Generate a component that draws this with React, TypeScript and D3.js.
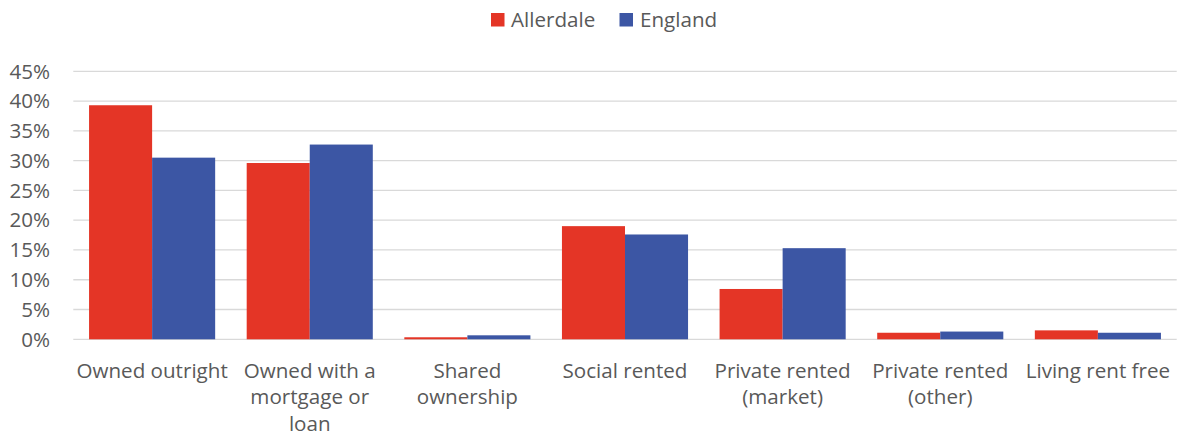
import React, { useEffect, useRef } from "react";
import * as d3 from "d3";

const categories = [
  "Owned outright",
  "Owned with a\nmortgage or\nloan",
  "Shared\nownership",
  "Social rented",
  "Private rented\n(market)",
  "Private rented\n(other)",
  "Living rent free",
];
const seriesNames = ["Allerdale", "England"];
const allerdale = [39.3, 29.6, 0.34, 19.0, 8.45, 1.1, 1.5];
const england = [30.5, 32.7, 0.67, 17.6, 15.3, 1.3, 1.1];
const yTicks = [0, 5, 10, 15, 20, 25, 30, 35, 40, 45];
const colors = ["#E43526", "#3C56A4"];

const W = 1178;
const H = 442;
const FONT = "'Open Sans', sans-serif";
const TEXT = "#595959";
const FS = 20.6;

export default function App() {
  const ref = useRef<SVGSVGElement>(null);
  useEffect(() => {
    document.body.style.margin = "0";
    const svg = d3.select(ref.current);
    svg.selectAll("*").remove();
    const left = 73.3, right = 1176.7, top = 71.3, bottom = 339.3;
    const y = d3.scaleLinear().domain([0, 45]).range([bottom, top]);
    const x0 = d3.scaleBand<string>().domain(categories).range([left, right]).paddingInner(0.2).paddingOuter(0.1);
    const x1 = d3.scaleBand<string>().domain(seriesNames).range([0, x0.bandwidth()]).padding(0);

    svg.append("g").selectAll("line").data(yTicks).join("line")
      .attr("x1", left).attr("x2", right)
      .attr("y1", (d) => y(d)).attr("y2", (d) => y(d))
      .attr("stroke", "#d9d9d9").attr("stroke-width", 1.3);

    svg.append("g").selectAll("text").data(yTicks).join("text")
      .attr("x", 50).attr("y", (d) => y(d))
      .attr("dy", "0.35em")
      .attr("text-anchor", "end")
      .attr("font-family", FONT).attr("font-size", FS).attr("fill", TEXT)
      .text((d) => `${d}%`);

    const series = [allerdale, england];
    series.forEach((vals, si) => {
      svg.append("g").selectAll("rect").data(vals).join("rect")
        .attr("x", (_, i) => (x0(categories[i]) as number) + (x1(seriesNames[si]) as number))
        .attr("width", x1.bandwidth())
        .attr("y", (d) => y(d))
        .attr("height", (d) => bottom - y(d))
        .attr("fill", colors[si]);
    });

    const xl = svg.append("g").selectAll("text").data(categories).join("text")
      .attr("text-anchor", "middle")
      .attr("font-family", FONT).attr("font-size", FS).attr("fill", TEXT);
    xl.each(function (d) {
      const t = d3.select(this);
      const cx = (x0(d) as number) + x0.bandwidth() / 2;
      d.split("\n").forEach((line, li) => {
        t.append("tspan").attr("x", cx).attr("y", 377.5 + li * 26.5).text(line);
      });
    });

    const leg = [
      { name: seriesNames[0], sx: 491, tx: 511 },
      { name: seriesNames[1], sx: 619.5, tx: 640 },
    ];
    leg.forEach((l, i) => {
      svg.append("rect").attr("x", l.sx).attr("y", 13).attr("width", 13.5).attr("height", 13.5).attr("fill", colors[i]);
      svg.append("text").attr("x", l.tx).attr("y", 27)
        .attr("font-family", FONT).attr("font-size", FS).attr("fill", TEXT).text(l.name);
    });
  }, []);
  return <svg ref={ref} width={W} height={H} style={{ display: "block", background: "#fff" }} />;
}
